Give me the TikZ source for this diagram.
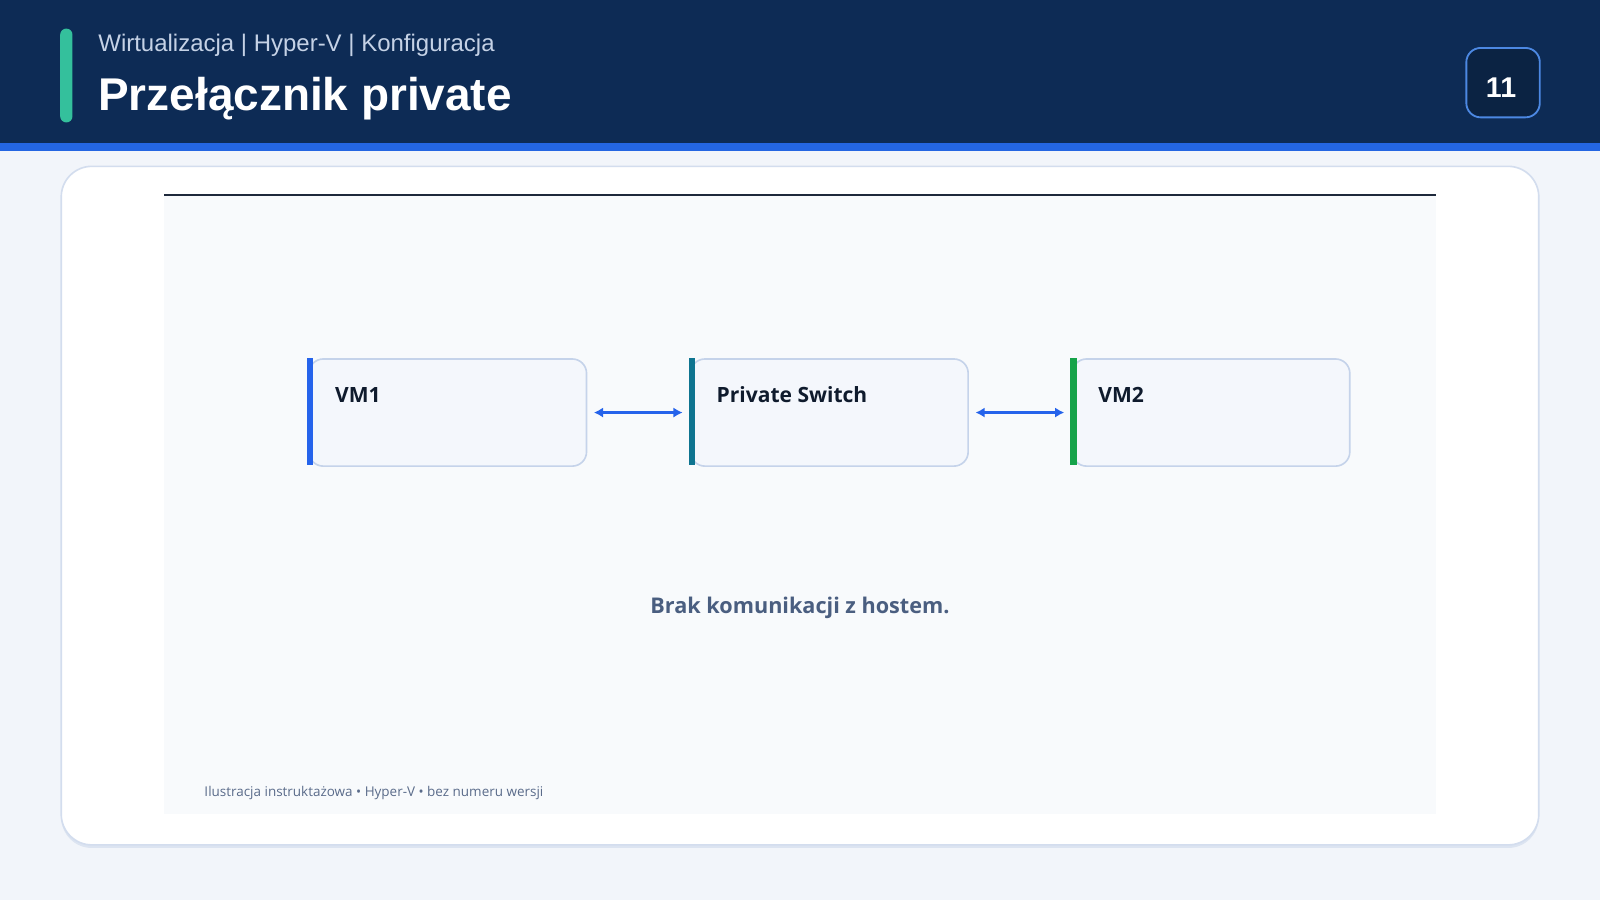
\documentclass[tikz,border=0pt]{standalone}
\usepackage{fontspec}
\setmainfont{Liberation Sans}
\newfontfamily\uifont{Open Sans}
\usetikzlibrary{arrows.meta,calc}
\definecolor{navy}{HTML}{0D2B55}
\definecolor{stripe}{HTML}{2466E2}
\definecolor{pagebg}{HTML}{F2F5FA}
\definecolor{accent}{HTML}{34C09C}
\definecolor{subtxt}{HTML}{C5D2E6}
\definecolor{numfill}{HTML}{0B2343}
\definecolor{numline}{HTML}{4C88E2}
\definecolor{cardline}{HTML}{D3DDEE}
\definecolor{panel}{HTML}{F8FAFC}
\definecolor{panelline}{HTML}{1E293B}
\definecolor{boxfill}{HTML}{F4F7FC}
\definecolor{boxline}{HTML}{C5D3EA}
\definecolor{vmblue}{HTML}{2563EB}
\definecolor{swteal}{HTML}{0E7490}
\definecolor{vmgreen}{HTML}{16A34A}
\definecolor{labeltxt}{HTML}{0F1B2D}
\definecolor{notetxt}{HTML}{4A5E80}
\definecolor{foottxt}{HTML}{5A6B8A}
\tikzset{
  x=0.5pt, y=-0.5pt,
  sysbox/.style={draw=boxline, line width=0.8pt, fill=boxfill, rounded corners=7pt,
    minimum width=136pt, minimum height=52.5pt, inner sep=0pt, anchor=north west},
  boxlabel/.style={font=\uifont\bfseries\fontsize{10.3}{13}\selectfont, text=labeltxt, anchor=base west, inner sep=0pt},
  link/.style={draw=vmblue, line width=1.5pt, {Latex[length=4.5pt,width=5pt]}-{Latex[length=4.5pt,width=5pt]}, shorten <=3.2pt, shorten >=3.5pt}
}
\begin{document}
\begin{tikzpicture}
\useasboundingbox (0,0) rectangle (1568,882);
% page background
\fill[pagebg] (0,0) rectangle (1568,882);
% header
\fill[navy] (0,0) rectangle (1568,140);
\fill[stripe] (0,140) rectangle (1568,148);
\fill[accent, rounded corners=3pt] (59,28) rectangle (71,120);
\node[anchor=base west, inner sep=0pt, text=subtxt, font=\fontsize{11.75}{14}\selectfont] (sub) at (96,50) {Wirtualizacja | Hyper-V | Konfiguracja};
\node[anchor=base west, inner sep=0pt, text=white, font=\bfseries\fontsize{22.5}{26}\selectfont] (title) at (96,108) {Przełącznik private};
\node[draw=numline, line width=0.9pt, fill=numfill, rounded corners=7pt, minimum width=36pt, minimum height=34pt, inner sep=0pt] (num) at (1473,81) {};
\node[anchor=base, inner sep=0pt, text=white, font=\bfseries\fontsize{14}{16}\selectfont] (numtxt) at (1471,96) {11};
% card
\fill[cardline!70!pagebg, rounded corners=15pt] (60,166) rectangle (1508,831);
\draw[cardline, line width=0.8pt, fill=white, rounded corners=15pt] (60,163) rectangle (1508,828);
% inner panel
\fill[panel] (161,190) rectangle (1407,798);
\draw[panelline, line width=1pt] (161,191) -- (1407,191);
% boxes
\node[sysbox] (vm1) at (302,351) {};
\node[sysbox] (sw) at (676,351) {};
\node[sysbox] (vm2) at (1050,351) {};
\fill[vmblue] (301,351) rectangle (307,456);
\fill[swteal] (675,351) rectangle (681,456);
\fill[vmgreen] (1049,351) rectangle (1055,456);
\node[boxlabel] (l1) at (328,394) {VM1};
\node[boxlabel] (l2) at (702,394) {Private Switch};
\node[boxlabel] (l3) at (1076,394) {VM2};
% links
\draw[link] (vm1.east) -- (sw.west);
\draw[link] (sw.east) -- (vm2.west);
% note
\node[anchor=base, inner sep=0pt, text=notetxt, font=\uifont\bfseries\fontsize{10.6}{13}\selectfont] (note) at (784,601) {Brak komunikacji z hostem.};
\node[anchor=base west, inner sep=0pt, text=foottxt, font=\uifont\fontsize{6.6}{8}\selectfont] (foot) at (200,781) {Ilustracja instruktażowa • Hyper-V • bez numeru wersji};
\end{tikzpicture}
\end{document}
